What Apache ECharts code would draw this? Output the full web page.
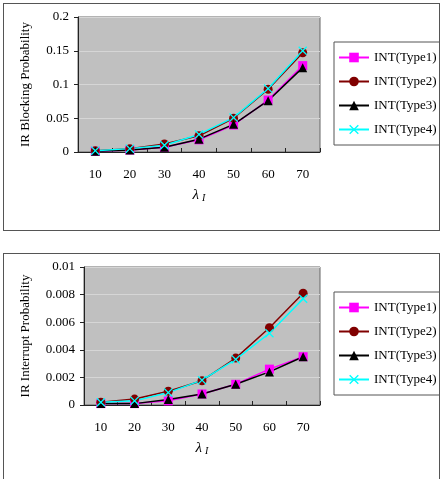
<!DOCTYPE html>
<html>
<head>
<meta charset="utf-8">
<script src="https://cdn.jsdelivr.net/npm/echarts@6/dist/echarts.min.js"></script>
<style>
  html, body { margin: 0; padding: 0; background: #fff; }
  .panel { position: absolute; left: 3px; width: 437px; border: 1px solid #555; box-sizing: border-box; }
  #top { top: 3px; height: 228px; }
  #bottom { top: 253px; height: 240px; }
</style>
</head>
<body>
<div id="top" class="panel"></div>
<div id="bottom" class="panel"></div>
<script>
const categories = ['10', '20', '30', '40', '50', '60', '70']
const seriesNames = ['INT(Type1)', 'INT(Type2)', 'INT(Type3)', 'INT(Type4)']

// IR blocking probability
const blockType1 = [0.001, 0.003, 0.007, 0.018, 0.040, 0.077, 0.128]
const blockType2 = [0.002, 0.005, 0.012, 0.024, 0.050, 0.093, 0.147]
const blockType3 = [0.001, 0.003, 0.007, 0.019, 0.041, 0.076, 0.125]
const blockType4 = [0.002, 0.005, 0.010, 0.026, 0.051, 0.094, 0.150]

// IR interrupt probability
const intrType1 = [0.0001, 0.0001, 0.0003, 0.0008, 0.0015, 0.0026, 0.0035]
const intrType2 = [0.0002, 0.00043, 0.0010, 0.00176, 0.0034, 0.0056, 0.0081]
const intrType3 = [0.0001, 0.0001, 0.0004, 0.0008, 0.0015, 0.0024, 0.0035]
const intrType4 = [0.0002, 0.0003, 0.0009, 0.0018, 0.0033, 0.0052, 0.0077]

const colors = ['#ff00ff', '#800000', '#000000', '#00ffff']
const crossPath = 'path://M1,0 L5,4 L9,0 L10,1 L6,5 L10,9 L9,10 L5,6 L1,10 L0,9 L4,5 L0,1 Z'
const symbols = ['rect', 'circle', 'triangle', crossPath]
const symbolSizes = [9, 9, 9, 9]

const font = '"Liberation Serif", "Times New Roman", serif'

const buildOption = (data, yName, yMax, yInterval, grid, yNameGap) => ({
  animation: false,
  textStyle: { fontFamily: font },
  grid: Object.assign({
    show: true,
    backgroundColor: '#c0c0c0',
    borderColor: '#666',
    borderWidth: 1
  }, grid),
  legend: {
    orient: 'vertical',
    left: 330,
    top: 38,
    width: 102,
    itemWidth: 30,
    itemHeight: 12,
    itemGap: 11,
    padding: [9, 3, 9, 4],
    borderColor: '#555',
    borderWidth: 1,
    textStyle: { fontFamily: font, fontSize: 13, color: '#000' },
    data: seriesNames
  },
  xAxis: {
    type: 'category',
    data: categories,
    boundaryGap: true,
    name: '{l|λ} {s|I}',
    nameLocation: 'middle',
    nameGap: 35,
    nameTextStyle: {
      rich: {
        l: { fontFamily: font, fontSize: 15, fontStyle: 'italic', color: '#000' },
        s: { fontFamily: font, fontSize: 10, fontStyle: 'italic', color: '#000', padding: [6, 0, 0, 0] }
      }
    },
    axisLine: { lineStyle: { color: '#222', width: 1 } },
    axisTick: { show: true, inside: true, length: 4, lineStyle: { color: '#222' } },
    axisLabel: { fontFamily: font, fontSize: 13, color: '#000', margin: 16 },
    splitLine: { show: false }
  },
  yAxis: {
    type: 'value',
    min: 0,
    max: yMax,
    interval: yInterval,
    name: yName,
    nameLocation: 'middle',
    nameGap: yNameGap,
    nameTextStyle: { fontFamily: font, fontSize: 13, color: '#000' },
    axisLine: { show: true, lineStyle: { color: '#222', width: 1 } },
    axisTick: { show: true, length: 4, lineStyle: { color: '#222' } },
    axisLabel: { fontFamily: font, fontSize: 13, color: '#000', margin: 9 },
    splitLine: { show: true, lineStyle: { color: '#d6d6d6', width: 1 } }
  },
  series: data.map((values, i) => ({
    name: seriesNames[i],
    type: 'line',
    data: values,
    symbol: symbols[i],
    symbolSize: symbolSizes[i],
    showAllSymbol: true,
    lineStyle: { color: colors[i], width: 1.5 },
    itemStyle: { color: colors[i] },
    emphasis: { disabled: true }
  }))
})

const topChart = echarts.init(document.getElementById('top'))
topChart.setOption(buildOption(
  [blockType1, blockType2, blockType3, blockType4],
  'IR Blocking Probability', 0.2, 0.05,
  { left: 74, top: 13, width: 242, height: 135 }, 46
))

const bottomChart = echarts.init(document.getElementById('bottom'))
bottomChart.setOption(buildOption(
  [intrType1, intrType2, intrType3, intrType4],
  'IR Interrupt Probability', 0.01, 0.002,
  { left: 80, top: 13, width: 236, height: 138 }, 52
))
</script>
</body>
</html>
